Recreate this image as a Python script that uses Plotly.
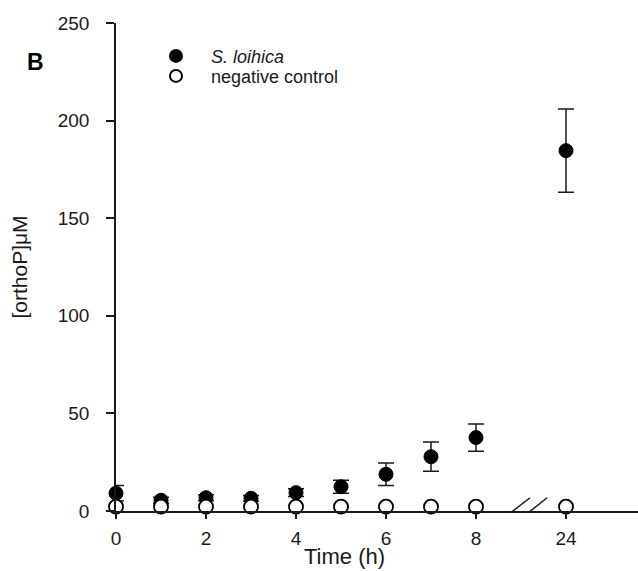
import plotly.graph_objects as go

# Sampling times (h) and measured orthophosphate (µM)
time_h = [0, 1, 2, 3, 4, 5, 6, 7, 8, 24]
loihica_mean = [9.1, 5.5, 6.8, 6.5, 9.4, 12.4, 18.8, 27.8, 37.6, 184.6]
loihica_err = [4.0, 1.5, 1.5, 1.5, 2.0, 3.3, 5.8, 7.5, 7.0, 21.3]
control_mean = [2.2, 2.2, 2.2, 2.2, 2.2, 2.2, 2.2, 2.2, 2.2, 2.2]
control_err = [0.5, 0.5, 0.5, 0.5, 0.5, 0.5, 0.5, 0.5, 0.5, 0.5]

x_ticks = [0, 2, 4, 6, 8, 24]
y_ticks = [0, 50, 100, 150, 200, 250]

# Broken time axis: the 24 h sample sits two slots after 8 h
def axis_pos(t):
    return t if t <= 8 else 10

x_pos = [axis_pos(t) for t in time_h]
tick_pos = [axis_pos(t) for t in x_ticks]

FONT = "Liberation Sans, Arial, sans-serif"
INK = "#1a1a1a"
PAD = "&nbsp;&nbsp;&nbsp;"

fig = go.Figure()

fig.add_trace(go.Scatter(
    x=x_pos, y=loihica_mean, mode="markers", name=PAD + "<i>S. loihica</i>", legend="legend",
    marker=dict(symbol="circle", size=14, color="black", line=dict(color="black", width=1)),
    error_y=dict(type="data", array=loihica_err, visible=True, color=INK, thickness=1.5, width=8),
    cliponaxis=False,
))
fig.add_trace(go.Scatter(
    x=x_pos, y=control_mean, mode="markers", name=PAD + "negative control", legend="legend2",
    marker=dict(symbol="circle", size=14, color="white", line=dict(color="black", width=1.8)),
    error_y=dict(type="data", array=control_err, visible=True, color=INK, thickness=1.5, width=6),
    cliponaxis=False,
))

# Double-slash break marks on the time axis between 8 h and 24 h
for x0, x1 in [(8.42, 9.2), (8.82, 9.58)]:
    fig.add_shape(type="line", xref="x", yref="y", x0=x0, x1=x1, y0=-7.2, y1=6.8,
                  line=dict(color=INK, width=1.5))

legend_style = dict(x=0.0766, xanchor="left", yanchor="middle", bgcolor="rgba(0,0,0,0)",
                    font=dict(size=18, color=INK), itemsizing="constant")

fig.update_layout(
    width=638, height=571,
    margin=dict(l=116, r=0, t=23, b=60),
    paper_bgcolor="white", plot_bgcolor="white",
    font=dict(family=FONT, size=19, color=INK),
    showlegend=True,
    legend=dict(y=0.932, **legend_style),
    legend2=dict(y=0.891, **legend_style),
    xaxis=dict(range=[0, 11.6], tickvals=tick_pos, ticktext=[str(t) for t in x_ticks],
               showline=True, linecolor=INK, linewidth=1.5, ticks="outside", ticklen=6,
               tickwidth=1.5, tickcolor=INK, showgrid=False, zeroline=False,
               ticklabelstandoff=3),
    yaxis=dict(range=[0, 250], tickvals=y_ticks, showline=True, linecolor=INK, linewidth=1.5,
               ticks="outside", ticklen=8, tickwidth=1.5, tickcolor=INK, showgrid=False,
               zeroline=False, ticklabelstandoff=13,
               title=dict(text="[orthoP]μM", font=dict(size=21), standoff=24)),
    annotations=[
        dict(text="<b>B</b>", xref="paper", yref="paper", x=-0.175, y=0.92,
             xanchor="left", yanchor="middle", showarrow=False, font=dict(size=23, color="black")),
        dict(text="Time (h)", xref="paper", yref="paper", x=0.437, y=-0.094,
             xanchor="center", yanchor="middle", showarrow=False, font=dict(size=22, color=INK)),
    ],
)

fig.write_html("out.html")
